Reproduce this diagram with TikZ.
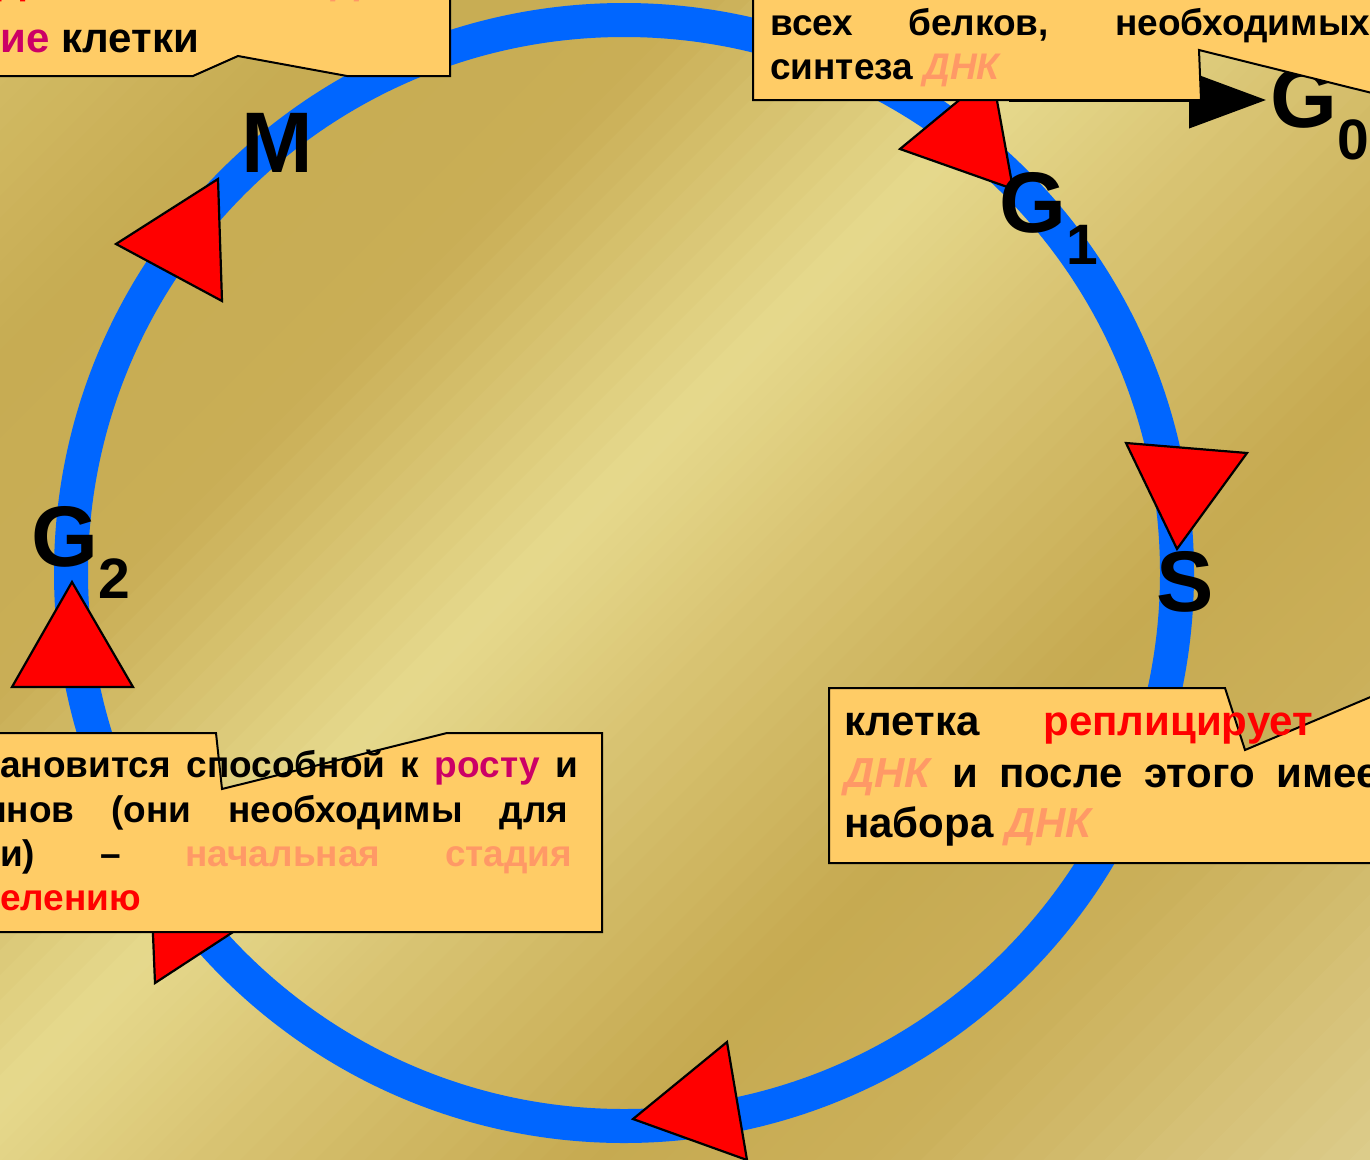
\documentclass[tikz,border=0pt]{standalone}
\usepackage{fontspec}
\setmainfont{Liberation Sans}
\usepackage{tikz}
\usetikzlibrary{arrows.meta}
\definecolor{boxfill}{HTML}{FFCC66}
\definecolor{dnkpink}{HTML}{FF9966}
\definecolor{trired}{HTML}{FF0000}
\definecolor{rosemag}{HTML}{CC0066}
\definecolor{ringblue}{HTML}{0066FF}
\definecolor{bgA}{HTML}{D5BE68}
\definecolor{bgB}{HTML}{C7AC53}
\definecolor{bgC}{HTML}{C9AE56}
\definecolor{bgD}{HTML}{E6D98D}
\definecolor{bgE}{HTML}{D9C473}
\definecolor{bgF}{HTML}{C6AA51}
\definecolor{bgG}{HTML}{CBB05A}
\definecolor{bgH}{HTML}{DDCD8C}
\newcommand{\dnk}{\textcolor{dnkpink}{\itshape ДНК}}
\newcommand{\phaselbl}[2]{#1\raisebox{-32pt}{\fontsize{57pt}{57pt}\selectfont #2}}

\begin{document}
\begin{tikzpicture}[x = 1pt, y = -1pt,
  ring/.style = {draw = ringblue, line width = 34pt},
  tri/.style = {fill = trired, draw = black, line width = 2.2pt, line join = miter},
  callout/.style = {fill = boxfill, draw = black, line width = 2pt},
  phase/.style = {anchor = base west, inner sep = 0pt, font = \fontsize{86pt}{86pt}\selectfont\bfseries},
  txtS/.style = {anchor = base west, inner sep = 0pt, font = \fontsize{37pt}{44pt}\selectfont\bfseries},
  txtL/.style = {anchor = base west, inner sep = 0pt, font = \fontsize{42pt}{50pt}\selectfont\bfseries}]
\useasboundingbox (0,0) rectangle (1370,1159);
\begin{scope}
\clip (0,0) rectangle (1370,1159);
% gold background
\foreach \sa/\sb/\ca/\cb in {0/350/bgA/bgB, 350/700/bgB/bgC, 700/1100/bgC/bgD, 1100/1350/bgD/bgE, 1350/1750/bgE/bgF, 1750/2050/bgF/bgG, 2050/2540/bgG/bgH}{
  \foreach \k in {0,...,15}{
    \pgfmathsetmacro{\lo}{\sa+(\sb-\sa)*\k/16}
    \pgfmathsetmacro{\hi}{\sa+(\sb-\sa)*(\k+1)/16+1.5}
    \pgfmathsetmacro{\pc}{100-100*(\k+0.5)/16}
    \fill[\ca!\pc!\cb] (\lo,0) -- (\hi,0) -- (\hi-1300,1300) -- (\lo-1300,1300) -- cycle;
  }
}
% cycle
\draw[ring] (624,573) circle[radius = 553pt];
\draw[tri] (900,149) -- (1013,189) -- (992,73) -- cycle;
\draw[tri] (1126,443) -- (1247,453) -- (1177,549) -- cycle;
\draw[tri] (727,1042) -- (633,1119) -- (747,1160) -- cycle;
\draw[tri] (155,983) -- (150,862) -- (256,917) -- cycle;
\draw[tri] (72,582) -- (12,687) -- (133,687) -- cycle;
\draw[tri] (116,244) -- (218,179) -- (222,301) -- cycle;
% phases
\node[phase] (m) at (241,172) {M};
\node[phase] (g1) at (999,232) {\phaselbl{G}{1}};
\node[phase] (g2) at (31,566) {\phaselbl{G}{2}};
\node[phase] (s) at (1156,611) {S};
\node[phase] (g0) at (1270,127) {\phaselbl{G}{0}};
\coordinate (g0tail) at (1009,100);
\draw[line width = 4pt, -{Triangle[length = 77pt, width = 56pt]}, shorten > = 4pt] (g0tail) -- (g0.west |- g0tail);
% callouts
\draw[callout] (-10,-10) -- (450,-10) -- (450,76) -- (347,76) -- (238,56) -- (193,76) -- (-10,76) -- cycle;
\draw[callout] (753,-10) -- (753,100) -- (1201,100) -- (1199,50) -- (1380,95) -- (1380,-10) -- cycle;
\draw[callout] (829,688) -- (1225,688) -- (1245,750) -- (1380,693) -- (1380,863) -- (829,863) -- cycle;
\draw[callout] (-10,733) -- (216,733) -- (222,789) -- (447,733) -- (602,733) -- (602,932) -- (-10,932) -- cycle;
% texts
\node[txtL] (tl1) at (-4,-6) {\textcolor{trired}{Д}};
\node[txtL] (tl2) at (333,-6) {\dnk};
\node[txtL] (tl3) at (0,52) {\textcolor{rosemag}{ие} клетки};
\node[txtS] (tr1) at (770,35) {\makebox[600pt][s]{всех белков, необходимых}};
\node[txtS] (tr2) at (770,79) {синтеза \dnk};
\node[txtS] (bl1) at (0,777) {\makebox[578pt][s]{ановится способной к \textcolor{rosemag}{росту} и}};
\node[txtS] (bl2) at (-16,822) {\makebox[584pt][s]{инов (они необходимы для}};
\node[txtS] (bl3) at (0,866) {\makebox[572pt][s]{и) – \textcolor{dnkpink}{начальная стадия}}};
\node[txtS] (bl4) at (0,910) {\textcolor{trired}{елению}};
\node[txtL] (br1) at (844,735) {\makebox[469pt][s]{клетка \textcolor{trired}{реплицирует}}};
\node[txtL] (br2) at (844,787) {\makebox[556pt][s]{\dnk{} и после этого имеет}};
\node[txtL] (br3) at (844,837) {набора \dnk};
\end{scope}
\end{tikzpicture}
\end{document}
